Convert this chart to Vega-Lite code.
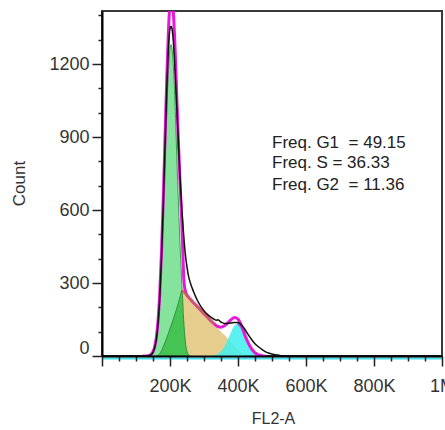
{
  "$schema": "https://vega.github.io/schema/vega-lite/v6.json",
  "autosize": "none",
  "width": 340,
  "height": 345,
  "padding": {"left": 102, "top": 11, "right": 3, "bottom": 74},
  "background": "white",
  "config": {
    "view": {"stroke": "#3a3a3a", "strokeWidth": 2},
    "font": "Liberation Sans"
  },
  "datasets": {
    "data": [
      {"x": 0, "y": 0}, {"x": 130000, "y": 0}, {"x": 140000, "y": 2}, {"x": 145000, "y": 6},
      {"x": 150000, "y": 15}, {"x": 155000, "y": 34}, {"x": 160000, "y": 70}, {"x": 165000, "y": 135},
      {"x": 170000, "y": 245}, {"x": 175000, "y": 405}, {"x": 180000, "y": 610}, {"x": 185000, "y": 845},
      {"x": 190000, "y": 1075}, {"x": 195000, "y": 1255}, {"x": 200000, "y": 1345}, {"x": 203000, "y": 1355},
      {"x": 206000, "y": 1345}, {"x": 210000, "y": 1290}, {"x": 215000, "y": 1170}, {"x": 220000, "y": 1020},
      {"x": 225000, "y": 870}, {"x": 230000, "y": 720}, {"x": 235000, "y": 600}, {"x": 240000, "y": 500},
      {"x": 245000, "y": 420}, {"x": 250000, "y": 365}, {"x": 255000, "y": 325}, {"x": 260000, "y": 300},
      {"x": 265000, "y": 280}, {"x": 270000, "y": 262}, {"x": 275000, "y": 245}, {"x": 280000, "y": 230},
      {"x": 290000, "y": 205}, {"x": 300000, "y": 186}, {"x": 310000, "y": 171}, {"x": 320000, "y": 160},
      {"x": 330000, "y": 151}, {"x": 337000, "y": 147}, {"x": 341000, "y": 149}, {"x": 345000, "y": 145},
      {"x": 352000, "y": 138}, {"x": 360000, "y": 134}, {"x": 370000, "y": 134}, {"x": 380000, "y": 136},
      {"x": 390000, "y": 138}, {"x": 398000, "y": 138}, {"x": 405000, "y": 134}, {"x": 410000, "y": 127},
      {"x": 420000, "y": 110}, {"x": 430000, "y": 88}, {"x": 440000, "y": 68}, {"x": 450000, "y": 50},
      {"x": 460000, "y": 38}, {"x": 470000, "y": 27}, {"x": 480000, "y": 18}, {"x": 490000, "y": 12},
      {"x": 500000, "y": 8}, {"x": 510000, "y": 5}, {"x": 520000, "y": 3}, {"x": 530000, "y": 1},
      {"x": 550000, "y": 0}, {"x": 1000000, "y": 0}
    ],
    "fit": [
      {"x": 120000, "y": 0}, {"x": 135000, "y": 1}, {"x": 140000, "y": 3}, {"x": 145000, "y": 7.5},
      {"x": 150000, "y": 18}, {"x": 155000, "y": 39}, {"x": 160000, "y": 78}, {"x": 165000, "y": 149},
      {"x": 170000, "y": 262}, {"x": 175000, "y": 427}, {"x": 180000, "y": 638}, {"x": 185000, "y": 878},
      {"x": 190000, "y": 1117}, {"x": 195000, "y": 1322}, {"x": 200000, "y": 1450}, {"x": 203000, "y": 1481},
      {"x": 205000, "y": 1480}, {"x": 210000, "y": 1410}, {"x": 215000, "y": 1261}, {"x": 220000, "y": 1064},
      {"x": 225000, "y": 870}, {"x": 230000, "y": 700}, {"x": 235000, "y": 540}, {"x": 238000, "y": 420},
      {"x": 240000, "y": 330}, {"x": 243000, "y": 282}, {"x": 246000, "y": 262}, {"x": 250000, "y": 250},
      {"x": 255000, "y": 241}, {"x": 260000, "y": 233}, {"x": 270000, "y": 218}, {"x": 280000, "y": 204},
      {"x": 290000, "y": 189}, {"x": 300000, "y": 174}, {"x": 310000, "y": 160}, {"x": 320000, "y": 145},
      {"x": 330000, "y": 132}, {"x": 340000, "y": 122}, {"x": 350000, "y": 118}, {"x": 360000, "y": 124},
      {"x": 370000, "y": 136}, {"x": 380000, "y": 150}, {"x": 390000, "y": 158}, {"x": 400000, "y": 152},
      {"x": 410000, "y": 126}, {"x": 420000, "y": 87}, {"x": 430000, "y": 54}, {"x": 440000, "y": 29},
      {"x": 450000, "y": 13}, {"x": 460000, "y": 5}, {"x": 470000, "y": 1.5}, {"x": 480000, "y": 0}
    ],
    "g1": [
      {"x": 125000, "y": 0}, {"x": 135000, "y": 1}, {"x": 140000, "y": 3}, {"x": 145000, "y": 7},
      {"x": 150000, "y": 17}, {"x": 155000, "y": 37}, {"x": 160000, "y": 74}, {"x": 165000, "y": 138},
      {"x": 170000, "y": 238}, {"x": 175000, "y": 382}, {"x": 180000, "y": 566}, {"x": 185000, "y": 776},
      {"x": 190000, "y": 986}, {"x": 195000, "y": 1160}, {"x": 200000, "y": 1262}, {"x": 203000, "y": 1280},
      {"x": 205000, "y": 1272}, {"x": 210000, "y": 1187}, {"x": 215000, "y": 1025}, {"x": 220000, "y": 819},
      {"x": 225000, "y": 620}, {"x": 230000, "y": 440}, {"x": 235000, "y": 290}, {"x": 240000, "y": 150},
      {"x": 245000, "y": 60}, {"x": 250000, "y": 18}, {"x": 255000, "y": 4}, {"x": 260000, "y": 0}
    ],
    "s": [
      {"x": 160000, "y": 0}, {"x": 165000, "y": 3}, {"x": 170000, "y": 10}, {"x": 175000, "y": 22},
      {"x": 180000, "y": 38}, {"x": 185000, "y": 55}, {"x": 190000, "y": 72}, {"x": 195000, "y": 92},
      {"x": 200000, "y": 112}, {"x": 205000, "y": 132}, {"x": 210000, "y": 152}, {"x": 215000, "y": 174},
      {"x": 220000, "y": 196}, {"x": 225000, "y": 220}, {"x": 230000, "y": 245}, {"x": 235000, "y": 270},
      {"x": 240000, "y": 263}, {"x": 250000, "y": 248}, {"x": 260000, "y": 233}, {"x": 270000, "y": 218},
      {"x": 280000, "y": 204}, {"x": 290000, "y": 189}, {"x": 300000, "y": 174}, {"x": 310000, "y": 160},
      {"x": 320000, "y": 145}, {"x": 330000, "y": 130}, {"x": 340000, "y": 115}, {"x": 350000, "y": 100},
      {"x": 360000, "y": 86}, {"x": 370000, "y": 71}, {"x": 380000, "y": 56}, {"x": 390000, "y": 41},
      {"x": 400000, "y": 27}, {"x": 410000, "y": 12}, {"x": 418000, "y": 0}
    ],
    "overlap": [
      {"x": 160000, "y": 0}, {"x": 165000, "y": 3}, {"x": 170000, "y": 10}, {"x": 175000, "y": 22},
      {"x": 180000, "y": 38}, {"x": 185000, "y": 55}, {"x": 190000, "y": 72}, {"x": 195000, "y": 92},
      {"x": 200000, "y": 112}, {"x": 205000, "y": 132}, {"x": 210000, "y": 152}, {"x": 215000, "y": 174},
      {"x": 220000, "y": 196}, {"x": 225000, "y": 220}, {"x": 230000, "y": 245}, {"x": 235000, "y": 270},
      {"x": 240000, "y": 150}, {"x": 245000, "y": 60}, {"x": 250000, "y": 18}, {"x": 255000, "y": 4},
      {"x": 260000, "y": 0}
    ],
    "g2": [
      {"x": 320000, "y": 0}, {"x": 330000, "y": 2}, {"x": 340000, "y": 7}, {"x": 350000, "y": 18},
      {"x": 360000, "y": 38}, {"x": 370000, "y": 67}, {"x": 380000, "y": 100}, {"x": 390000, "y": 125},
      {"x": 398000, "y": 132}, {"x": 400000, "y": 131}, {"x": 410000, "y": 116}, {"x": 420000, "y": 87},
      {"x": 430000, "y": 54}, {"x": 440000, "y": 29}, {"x": 450000, "y": 13}, {"x": 460000, "y": 5},
      {"x": 470000, "y": 1.5}, {"x": 480000, "y": 0}
    ],
    "stats": [
      {"label": "Freq. G1\u00a0 = 49.15", "x": 500000, "y": 875},
      {"label": "Freq. S = 36.33", "x": 500000, "y": 793},
      {"label": "Freq. G2\u00a0 = 11.36", "x": 500000, "y": 703}
    ]
  },
  "encoding": {
    "x": {
      "field": "x", "type": "quantitative",
      "scale": {"domain": [0, 1000000], "nice": false, "zero": false},
      "axis": {
        "values": [0, 50000, 100000, 150000, 200000, 250000, 300000, 350000, 400000, 450000, 500000, 550000, 600000, 650000, 700000, 750000, 800000, 850000, 900000, 950000, 1000000],
        "labelExpr": "datum.value == 0 ? '' : datum.value >= 1000000 ? '1M' : (datum.value % 200000 == 0 ? (datum.value / 1000) + 'K' : '')",
        "tickSize": {"condition": {"test": "datum.value % 200000 === 0", "value": 10}, "value": 5},
        "tickColor": "#222", "tickWidth": 1.5,
        "domainColor": "#000", "domainWidth": 2,
        "labelFont": "Liberation Sans", "labelFontSize": 18, "labelColor": "#333",
        "labelPadding": 11, "labelFlush": false, "labelOverlap": false, "labelBound": false,
        "grid": false, "zindex": 1,
        "title": "FL2-A", "titleFont": "Liberation Sans", "titleFontSize": 16, "titleFontWeight": "normal",
        "titleColor": "#333", "titleX": 171, "titleY": 67, "titleBaseline": "alphabetic", "titleAlign": "center"
      }
    },
    "y": {
      "field": "y", "type": "quantitative",
      "scale": {"domain": [0, 1418], "nice": false},
      "axis": {
        "values": [0, 100, 200, 300, 400, 500, 600, 700, 800, 900, 1000, 1100, 1200, 1300, 1400],
        "format": "d",
        "labelExpr": "datum.value % 300 === 0 ? datum.label : ''",
        "tickSize": {"condition": {"test": "datum.value % 300 === 0", "value": 10}, "value": 4},
        "labelOffset": {"condition": {"test": "datum.value === 0", "value": -8}, "value": 0},
        "tickColor": "#222", "tickWidth": 1.5,
        "domainColor": "#000", "domainWidth": 2,
        "labelFont": "Liberation Sans", "labelFontSize": 18, "labelColor": "#333",
        "labelPadding": 3, "labelOverlap": false, "labelBound": false,
        "grid": false, "zindex": 1,
        "title": "Count", "titleFont": "Liberation Sans", "titleFontSize": 17, "titleFontWeight": "normal",
        "titleColor": "#333", "titleX": -78, "titleY": 172, "titleAngle": -90, "titleBaseline": "alphabetic", "titleAlign": "center"
      }
    }
  },
  "layer": [
    {"data": {"name": "g1"}, "mark": {"type": "area", "color": "#86e39d", "interpolate": "monotone", "clip": true, "stroke": "#3a9a4a", "strokeWidth": 1}},
    {"data": {"name": "s"}, "mark": {"type": "area", "color": "#e5cd8e", "interpolate": "monotone", "clip": true}},
    {"data": {"name": "overlap"}, "mark": {"type": "area", "color": "#45c454", "interpolate": "monotone", "clip": true, "stroke": "#2f8f3a", "strokeWidth": 1}},
    {"data": {"name": "g2"}, "mark": {"type": "area", "color": "#40eeee", "opacity": 0.85, "interpolate": "monotone", "clip": true}},
    {"data": {"name": "g2"}, "transform": [{"filter": "datum.x >= 398000"}], "mark": {"type": "line", "color": "#8a7ae0", "strokeWidth": 2, "interpolate": "monotone", "clip": true}},
    {"data": {"name": "fit"}, "mark": {"type": "line", "color": "#e619d9", "strokeWidth": 3, "interpolate": "monotone", "clip": true}},
    {"data": {"name": "s"}, "transform": [{"filter": "datum.x >= 235000 && datum.x <= 335000"}], "mark": {"type": "line", "color": "#c8634f", "strokeWidth": 2, "interpolate": "monotone", "clip": true}},
    {"data": {"name": "data"}, "mark": {"type": "line", "color": "#3fe0ee", "strokeWidth": 2, "yOffset": 2.5}, "encoding": {"y": {"datum": 0}}},
    {"data": {"name": "data"}, "mark": {"type": "line", "color": "#111", "strokeWidth": 1.5, "interpolate": "monotone", "clip": true}},
    {"data": {"name": "stats"}, "mark": {"type": "text", "align": "left", "baseline": "middle", "font": "Liberation Sans", "fontSize": 17, "color": "#222"}, "encoding": {"text": {"field": "label"}}}
  ]
}
